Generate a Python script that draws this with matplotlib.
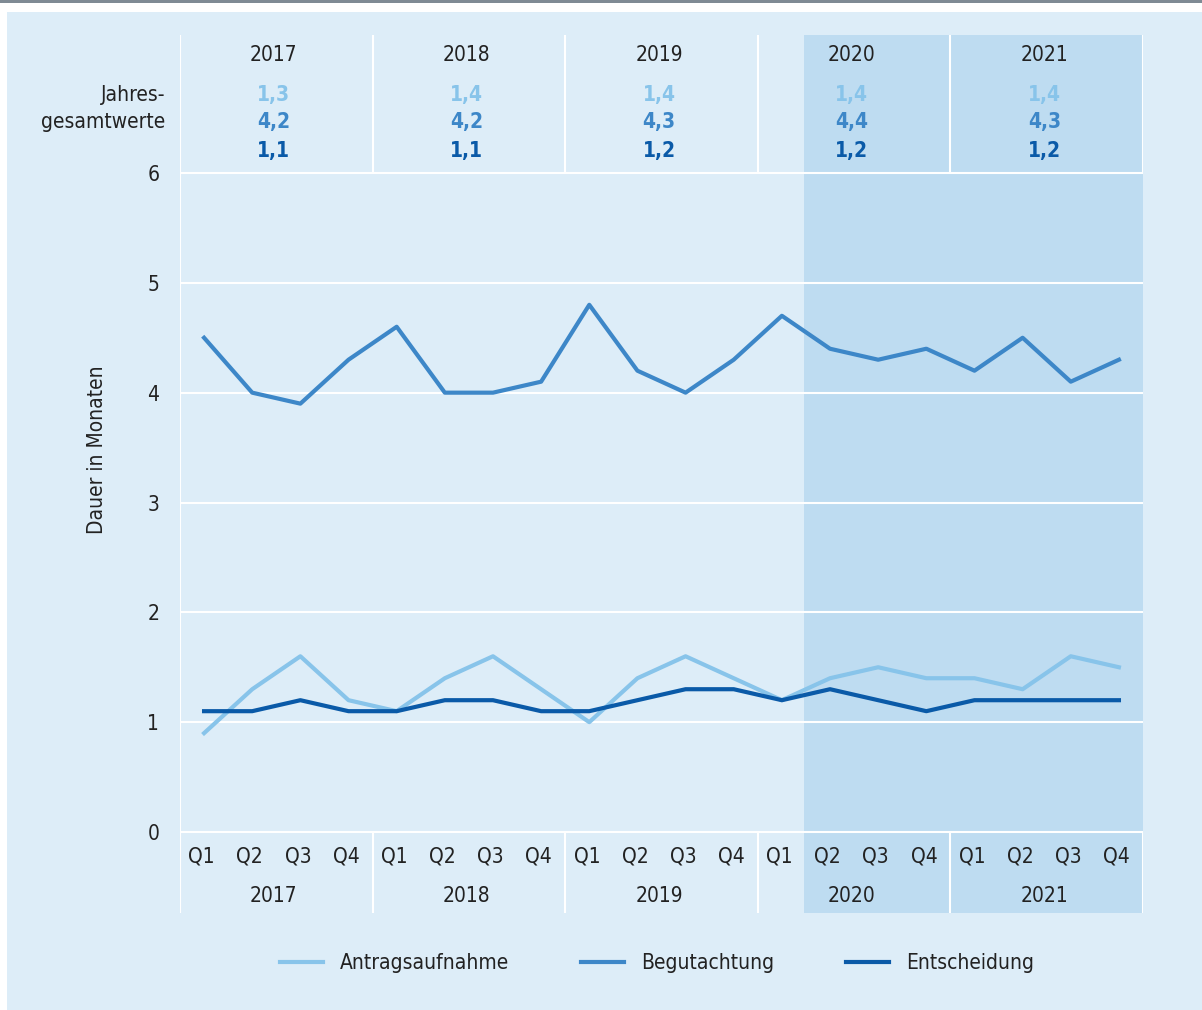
import matplotlib
matplotlib.use("Agg")
import matplotlib.pyplot as plt
from matplotlib.patches import Rectangle

# quarterly processing times in months, Q1 2017 .. Q4 2021
quarters = ["Q1", "Q2", "Q3", "Q4"] * 5
years = ["2017", "2018", "2019", "2020", "2021"]
antragsaufnahme = [0.9, 1.3, 1.6, 1.2, 1.1, 1.4, 1.6, 1.3, 1.0, 1.4,
                   1.6, 1.4, 1.2, 1.4, 1.5, 1.4, 1.4, 1.3, 1.6, 1.5]
begutachtung = [4.5, 4.0, 3.9, 4.3, 4.6, 4.0, 4.0, 4.1, 4.8, 4.2,
                4.0, 4.3, 4.7, 4.4, 4.3, 4.4, 4.2, 4.5, 4.1, 4.3]
entscheidung = [1.1, 1.1, 1.2, 1.1, 1.1, 1.2, 1.2, 1.1, 1.1, 1.2,
                1.3, 1.3, 1.2, 1.3, 1.2, 1.1, 1.2, 1.2, 1.2, 1.2]
# annual totals (Antragsaufnahme, Begutachtung, Entscheidung)
total_antrag = ["1,3", "1,4", "1,4", "1,4", "1,4"]
total_gutachten = ["4,2", "4,2", "4,3", "4,4", "4,3"]
total_entscheid = ["1,1", "1,1", "1,2", "1,2", "1,2"]

c_antrag = "#88c4ea"
c_gutachten = "#3d87c8"
c_entscheid = "#0a5aa8"
bg = "#ddedf8"
shade = "#bedcf1"
txt = "#222222"

plt.rcParams["font.family"] = ["DejaVu Sans"]
plt.rcParams["font.stretch"] = "condensed"
fs = 15

fig = plt.figure(figsize=(12.02, 10.10), dpi=100)
fig.patches.append(Rectangle((7 / 1202, 0), 1, 1 - 12 / 1010, transform=fig.transFigure,
                             facecolor=bg, edgecolor="none", zorder=-10))
fig.patches.append(Rectangle((0, 1 - 3 / 1010), 1, 3 / 1010, transform=fig.transFigure,
                             facecolor="#7f8a94", edgecolor="none", zorder=-10))

W, H = 1202, 1010
ax = fig.add_axes([180 / W, 1 - 913 / H, (1143 - 180) / W, (913 - 35) / H])
ax.set_facecolor(bg)
for s in ax.spines.values():
    s.set_visible(False)

unit = (832 - 173) / 6
ax.set_xlim(-0.5, 19.5)
ax.set_ylim(-(913 - 832) / unit, (832 - 35) / unit)
ytop = ax.get_ylim()[1]
ybot = ax.get_ylim()[0]

x = list(range(len(quarters)))

# shaded period from Q2 2020 on
ax.axvspan(12.45, 19.5, color=shade, zorder=0, lw=0)

# grid and separators
ax.hlines(range(7), -0.5, 19.5, color="white", lw=1.5, zorder=1)
for k in range(6):
    xs = -0.5 + 4 * k
    ax.vlines(xs, 6, ytop, color="white", lw=1.5, zorder=1)
    ax.vlines(xs, ybot, 0, color="white", lw=1.5, zorder=1)
ax.vlines(-0.5, ybot, ytop, color="white", lw=1.5, zorder=1)

ax.plot(x, antragsaufnahme, color=c_antrag, lw=3, zorder=3, label="Antragsaufnahme")
ax.plot(x, begutachtung, color=c_gutachten, lw=3, zorder=3, label="Begutachtung")
ax.plot(x, entscheidung, color=c_entscheid, lw=3, zorder=3, label="Entscheidung")

ax.set_xticks([])
ax.set_yticks(range(7))
ax.set_yticklabels([str(v) for v in range(7)], fontsize=fs, color=txt)
ax.tick_params(axis="y", length=0, pad=15)

# quarter and year labels below the axis
for i, q in enumerate(quarters):
    ax.text(i - 0.05, -0.22, q, ha="center", va="center", fontsize=fs, color=txt)
for k, yr in enumerate(years):
    xc = 1.45 + 4 * k
    ax.text(xc, -0.58, yr, ha="center", va="center", fontsize=fs, color=txt)
    # header with annual totals
    ax.text(xc, 7.07, yr, ha="center", va="center", fontsize=fs, color=txt)
    ax.text(xc, 6.71, total_antrag[k], ha="center", va="center", fontsize=fs,
            color=c_antrag, fontweight="bold")
    ax.text(xc, 6.46, total_gutachten[k], ha="center", va="center", fontsize=fs,
            color=c_gutachten, fontweight="bold")
    ax.text(xc, 6.20, total_entscheid[k], ha="center", va="center", fontsize=fs,
            color=c_entscheid, fontweight="bold")

ax.text(-0.5 - 15 / 48.1, 6.71, "Jahres-", ha="right", va="center", fontsize=fs, color=txt)
ax.text(-0.5 - 15 / 48.1, 6.46, "gesamtwerte", ha="right", va="center", fontsize=fs, color=txt)

fig.text(97 / W, 1 - 450 / H, "Dauer in Monaten", rotation=90, ha="center", va="center",
         fontsize=fs, color=txt)

fig.legend(loc="center", bbox_to_anchor=(657 / W, 1 - 963 / H), ncol=3, frameon=False,
           fontsize=fs, handlelength=2.07, handletextpad=0.8, columnspacing=3.45,
           labelcolor=txt)

fig.savefig("out.png", dpi=100, facecolor="white")
